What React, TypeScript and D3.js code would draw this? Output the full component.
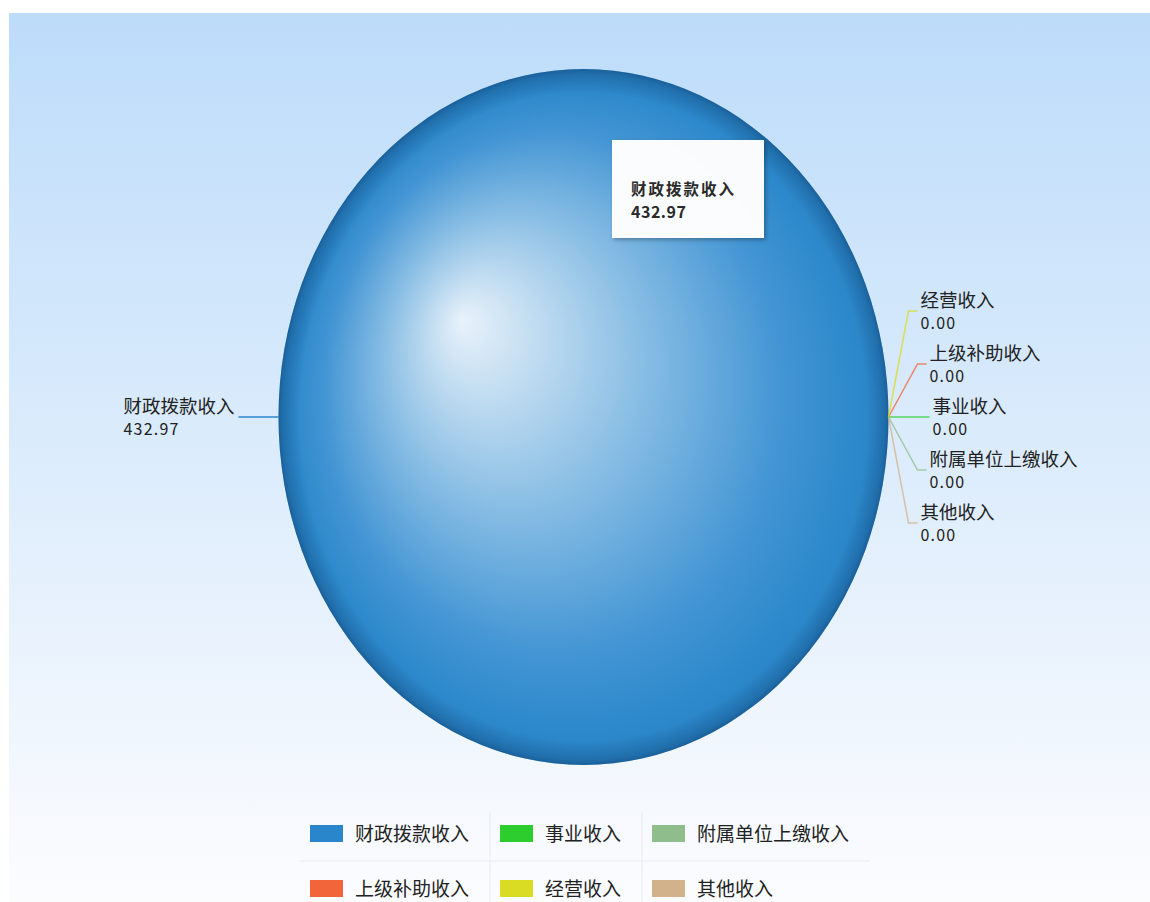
import React from "react";
import * as d3 from "d3";

const categories = ["财政拨款收入", "上级补助收入", "事业收入", "经营收入", "附属单位上缴收入", "其他收入"];
const values = [432.97, 0, 0, 0, 0, 0];
const colors = ["#2a86cb", "#f2643a", "#2ccd2c", "#d9dc22", "#8fbd8b", "#d2b28a"];
// vertical stacking order of the zero-value labels on the right side (top -> bottom)
const rightLabelOrder = ["经营收入", "上级补助收入", "事业收入", "附属单位上缴收入", "其他收入"];
const tooltipLines = ["财政拨款收入", "432.97"];

const W = 1150;
const H = 902;
const FONT = "'Noto Sans CJK SC', 'Noto Sans', sans-serif";

export default function App() {
  const cx = 583.5;
  const cy = 417;
  const rx = 305;
  const ry = 348;

  const pie = d3
    .pie<number>()
    .sort(null)
    .value((d) => d)
    .startAngle(Math.PI / 2)
    .endAngle(Math.PI / 2 + 2 * Math.PI);
  const arcs = pie(values);
  const arcGen = d3.arc<d3.PieArcDatum<number>>().innerRadius(0).outerRadius(rx);
  const edgePoint = (a: number) => [cx + rx * Math.sin(a), cy - ry * Math.cos(a)];

  const fmt = d3.format(".2f");
  const nameSize = 18.5;
  const valSize = 16;

  const labels: JSX.Element[] = [];
  arcs.forEach((a, i) => {
    const mid = (a.startAngle + a.endAngle) / 2;
    const [px, py] = edgePoint(mid);
    const name = categories[i];
    const val = fmt(values[i]);
    if (values[i] > 0) {
      const left = Math.sin(mid) < 0;
      const dir = left ? -1 : 1;
      const lx = px + dir * 40;
      const textStart = left ? lx - 4 - name.length * nameSize : lx + 4;
      labels.push(
        <g key={"l" + i}>
          <line x1={px} y1={py} x2={lx} y2={py} stroke={colors[i]} strokeWidth={1.5} />
          <text x={textStart} y={py - 4} fontSize={nameSize} fill="#222">
            {name}
          </text>
          <text x={textStart} y={py + 18} fontSize={valSize} fill="#222" letterSpacing={1.2}>
            {val}
          </text>
        </g>
      );
    } else {
      const k = rightLabelOrder.indexOf(name) - 2;
      const yc = py + k * 53;
      const tx = px + 44 - 3 * k * k;
      const pts: [number, number][] = [
        [px, py],
        [tx - 12, yc],
        [tx - 3, yc],
      ];
      labels.push(
        <g key={"l" + i}>
          <path d={d3.line()(pts) || ""} fill="none" stroke={colors[i]} strokeOpacity={0.75} strokeWidth={1.5} />
          <text x={tx} y={yc - 4} fontSize={nameSize} fill="#222">
            {name}
          </text>
          <text x={tx} y={yc + 18} fontSize={valSize} fill="#222" letterSpacing={1.2}>
            {val}
          </text>
        </g>
      );
    }
  });

  // legend: column-major, 2 rows
  const rows = 2;
  const nCols = Math.ceil(categories.length / rows);
  const charW = 19;
  const colWidths = d3.range(nCols).map((c) => {
    const items = categories.slice(c * rows, c * rows + rows);
    return 45 + (d3.max(items, (s) => s.length) || 0) * charW + 31;
  });
  const legendX0 = 310;
  const colX = colWidths.map((_, c) => legendX0 + d3.sum(colWidths.slice(0, c)));
  const rowY = [834, 889];
  const legendRight = colX[nCols - 1] + colWidths[nCols - 1] - 10;

  return (
    <svg
      width={W}
      height={H}
      style={{ position: "absolute", left: 0, top: 0, display: "block", fontFamily: FONT }}
    >
      <defs>
        <linearGradient id="bg" x1="0" y1="0" x2="0" y2="1">
          <stop offset="0" stopColor="#bddcfa" />
          <stop offset="0.5" stopColor="#dcecfc" />
          <stop offset="0.9" stopColor="#f6f9fe" />
          <stop offset="1" stopColor="#fbfcfe" />
        </linearGradient>
        <radialGradient id="ball" cx="0.5" cy="0.5" r="0.5" fx="0.3" fy="0.36">
          <stop offset="0" stopColor="#e8f2fa" />
          <stop offset="0.15" stopColor="#c6dff2" />
          <stop offset="0.45" stopColor="#82bae3" />
          <stop offset="0.75" stopColor="#4395d4" />
          <stop offset="0.92" stopColor="#2d89cc" />
          <stop offset="1" stopColor="#2a84c6" />
        </radialGradient>
        <radialGradient id="rim" cx="0.5" cy="0.5" r="0.5">
          <stop offset="0.93" stopColor="#0a3c6e" stopOpacity="0" />
          <stop offset="0.985" stopColor="#0a3c6e" stopOpacity="0.3" />
          <stop offset="1" stopColor="#0a3c6e" stopOpacity="0.5" />
        </radialGradient>
        <filter id="tipShadow" x="-20%" y="-20%" width="140%" height="140%">
          <feDropShadow dx="2" dy="2" stdDeviation="2" floodColor="#000" floodOpacity="0.3" />
        </filter>
      </defs>

      <rect x={9} y={13} width={W - 9} height={H - 13} fill="url(#bg)" />

      <g transform={`translate(${cx},${cy}) scale(1,${ry / rx})`}>
        {arcs.map((a, i) =>
          a.endAngle - a.startAngle > 0 ? (
            <g key={i}>
              <path d={arcGen(a) || ""} fill="url(#ball)" />
              <path d={arcGen(a) || ""} fill="url(#rim)" />
            </g>
          ) : null
        )}
      </g>

      {labels}

      <g filter="url(#tipShadow)">
        <rect x={612} y={140} width={152} height={98} fill="#ffffff" fillOpacity={0.97} />
      </g>
      <text x={631} y={195} fontSize={15.5} fontWeight="bold" fill="#2a2a2a" letterSpacing={2}>
        {tooltipLines[0]}
      </text>
      <text x={631} y={218} fontSize={16} fontWeight="bold" fill="#2a2a2a" letterSpacing={0.5}>
        {tooltipLines[1]}
      </text>

      <g>
        <line x1={300} x2={legendRight} y1={861} y2={861} stroke="#e6edf5" strokeWidth={1} />
        {colX.slice(1).map((x, c) => (
          <line key={c} x1={x - 10} x2={x - 10} y1={812} y2={H} stroke="#e6edf5" strokeWidth={1} />
        ))}
        {categories.map((name, i) => {
          const c = Math.floor(i / rows);
          const r = i % rows;
          const x = colX[c];
          const y = rowY[r];
          return (
            <g key={name}>
              <rect x={x} y={y - 9} width={33} height={17} fill={colors[i]} />
              <text x={x + 45} y={y + 7} fontSize={19} fill="#222">
                {name}
              </text>
            </g>
          );
        })}
      </g>
    </svg>
  );
}
